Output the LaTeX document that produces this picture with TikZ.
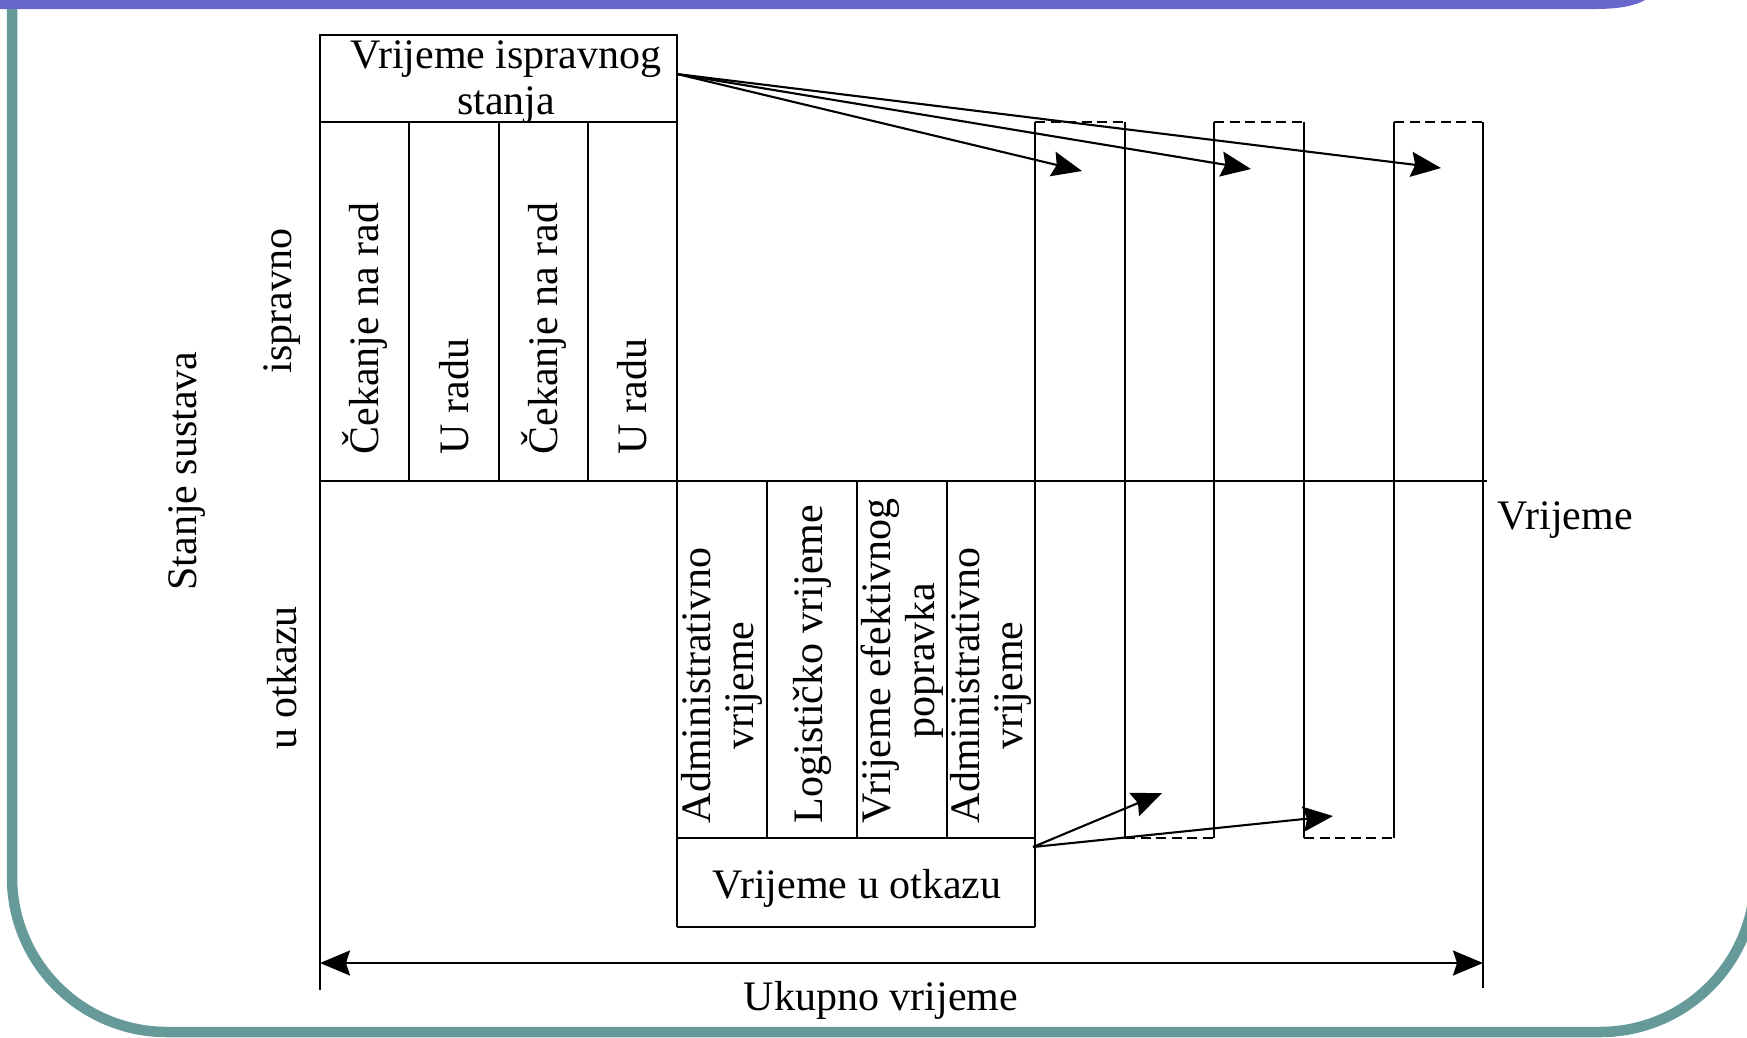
\documentclass[tikz,border=0pt]{standalone}
\usepackage{fontspec}
\setmainfont{Liberation Serif}
\usetikzlibrary{arrows.meta}
\definecolor{barblue}{RGB}{102,102,204}
\definecolor{frameteal}{RGB}{102,153,153}

\begin{document}
\begin{tikzpicture}[x=0.1mm,y=-0.1mm,
  lin/.style={black,line width=0.6pt},
  dashedline/.style={lin,dash pattern=on 1mm off 0.55mm},
  arr/.style={lin,-{Stealth[length=3mm,width=2.5mm,inset=0.4mm]}},
  darr/.style={lin,{Stealth[length=3mm,width=2.5mm,inset=0.4mm]}-{Stealth[length=3mm,width=2.5mm,inset=0.4mm]}},
  txt/.style={inner sep=0pt,font=\fontsize{11.95pt}{12.4pt}\selectfont},
  vtxt/.style={txt,rotate=90,align=center}]

\useasboundingbox (0,0) rectangle (1747,1037);

% slide frame
\fill[barblue] (0,0) -- (0,9) -- (1595,9) .. controls (1622,9) and (1636,5) .. (1645,0) -- cycle;
\draw[frameteal,line width=1.05mm,rounded corners=15.5mm] (12,9) -- (12,1032) -- (1755,1032) -- (1755,9);

% grid
\draw[lin] (320,35) rectangle (677,122);
\draw[lin] (320,35) -- (320,990);
\draw[lin] (677,35) -- (677,927);
\draw[lin] (409,122) -- (409,481) (499,122) -- (499,481) (588,122) -- (588,481);
\draw[lin] (320,481) -- (1487,481);
\draw[lin] (767,481) -- (767,838) (857,481) -- (857,838) (947,481) -- (947,838);
\draw[lin] (677,838) -- (1035,838) (677,927) -- (1035,927);
\draw[lin] (1035,122) -- (1035,927);
\draw[lin] (1125,122) -- (1125,838) (1214,122) -- (1214,838) (1304,122) -- (1304,838) (1394,122) -- (1394,838);
\draw[lin] (1483,122) -- (1483,988);
\draw[dashedline] (1035,122) -- (1125,122) (1214,122) -- (1304,122) (1394,122) -- (1483,122);
\draw[dashedline] (1125,838) -- (1214,838) (1304,838) -- (1394,838);

% labels
\node[txt,align=center,font=\fontsize{11.95pt}{13pt}\selectfont] (ispr) at (506,82) {Vrijeme ispravnog\\stanja};
\node[txt,anchor=base] (otkaz) at (857,898) {Vrijeme u otkazu};
\node[txt,anchor=base] (ukupno) at (881,1010) {Ukupno vrijeme};
\node[txt,anchor=base west] (vrijeme) at (1497,529) {Vrijeme};

\node[vtxt] (stanje) at (187,471) {Stanje sustava};
\node[vtxt] (ispravno) at (282,301) {ispravno};
\node[vtxt] (uotkazu) at (282,678) {u otkazu};

\node[vtxt,anchor=west] (cek1) at (364.5,455) {Čekanje na rad};
\node[vtxt,anchor=west] (rad1) at (454,455) {U radu};
\node[vtxt,anchor=west] (cek2) at (543.5,455) {Čekanje na rad};
\node[vtxt,anchor=west] (rad2) at (632.5,455) {U radu};

\node[vtxt,anchor=west] (adm1) at (722,824) {Administrativno\\vrijeme};
\node[vtxt,anchor=west] (log) at (812,824) {Logističko vrijeme};
\node[vtxt,anchor=west] (efek) at (902,824) {Vrijeme efektivnog\\popravka};
\node[vtxt,anchor=west] (adm2) at (991,824) {Administrativno\\vrijeme};

% arrows
\coordinate (isprout) at (677,74);
\coordinate (t1) at (1082,171);
\coordinate (t2) at (1251,169);
\coordinate (t3) at (1441,168);
\coordinate (otkout) at (1033,847);
\coordinate (b1) at (1162,793);
\coordinate (b2) at (1333,816);
\coordinate (L) at (320,963);
\coordinate (R) at (1483,963);

\draw[arr] (isprout) -- (t1);
\draw[arr] (isprout) -- (t2);
\draw[arr] (isprout) -- (t3);
\draw[arr] (otkout) -- (b1);
\draw[arr] (otkout) -- (b2);
\draw[darr] (L) -- (R);

\end{tikzpicture}
\end{document}
